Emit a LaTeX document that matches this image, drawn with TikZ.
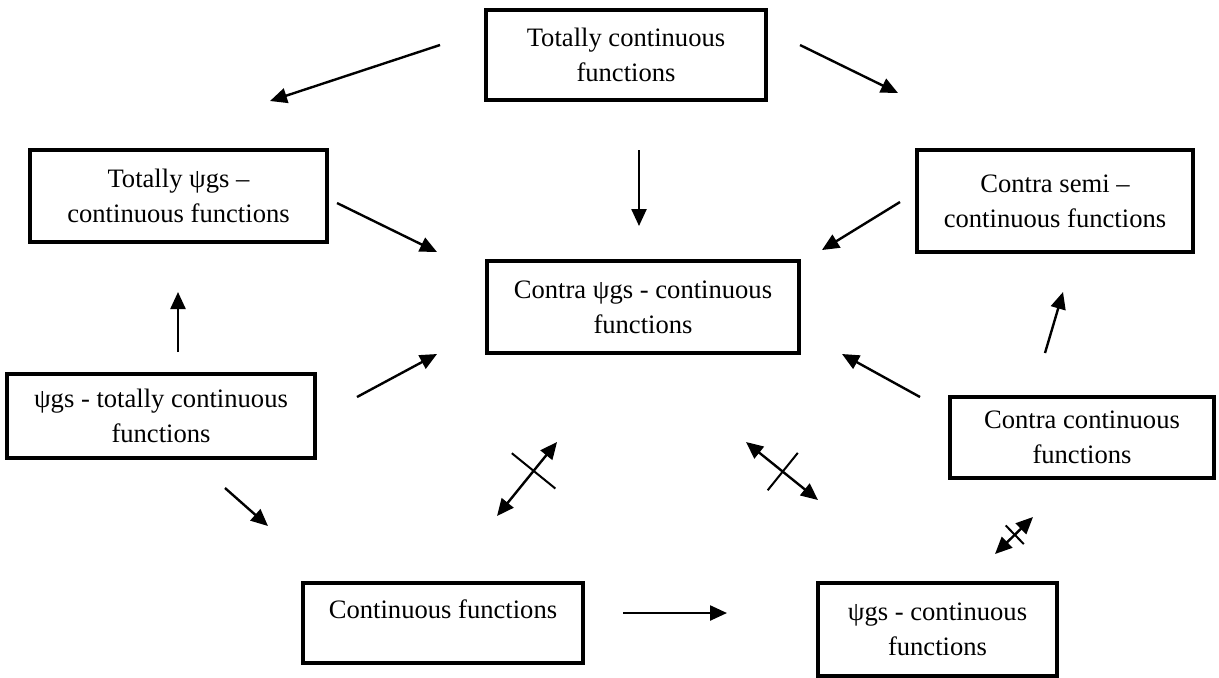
\documentclass[tikz,border=0pt]{standalone}
\usepackage{fontspec}
\setmainfont{Liberation Serif}
\usepackage{tikz}
\usetikzlibrary{arrows.meta,decorations.markings}

\begin{document}
\begin{tikzpicture}[
  x=0.5pt, y=-0.5pt,
  font=\fontsize{13.3}{17.5}\selectfont,
  bx/.style={draw, line width=2pt, align=center, inner sep=3pt},
  ar/.style={-{Triangle[length=8.5pt,width=7.5pt]}, line width=1.2pt},
  dar/.style={{Triangle[length=8.5pt,width=7.5pt]}-{Triangle[length=8.5pt,width=7.5pt]}, line width=1.2pt},
  nott/.style n args={2}{postaction={decorate}, decoration={markings,
      mark=at position #1 with {\draw[-, line width=1pt] (0,-#2) -- (0,#2);}}}
]
\useasboundingbox (0,0) rectangle (1219,677);
% boxes, top row
\node[bx, minimum width=140pt, minimum height=45pt] (tc) at (626,55)
  {Totally continuous\\functions};
\node[bx, minimum width=148.5pt, minimum height=46pt] (tpsi) at (178.5,196)
  {Totally ψgs --\\continuous functions};
\node[bx, minimum width=138pt, minimum height=51pt] (csemi) at (1055,201)
  {Contra semi --\\continuous functions};
% middle
\node[bx, minimum width=156pt, minimum height=46pt] (cpsi) at (643,307)
  {Contra ψgs - continuous\\functions};
\node[bx, minimum width=154pt, minimum height=42pt] (psit) at (161,416)
  {ψgs - totally continuous\\functions};
\node[bx, minimum width=132pt, minimum height=40.5pt] (ccont) at (1082,437.5)
  {Contra continuous\\functions};
% bottom row
\node[bx, minimum width=140pt, minimum height=40pt, text depth=14pt] (cont) at (443,623)
  {Continuous functions};
\node[bx, minimum width=119.5pt, minimum height=46.5pt] (psic) at (937.5,629.5)
  {ψgs - continuous\\functions};
% free arrow ends
\path (440,45) coordinate (a1) (270,101) coordinate (b1)
      (800,45) coordinate (a2) (898,93) coordinate (b2)
      (639,150) coordinate (a3) (639,226) coordinate (b3)
      (337,203) coordinate (a4) (437,252) coordinate (b4)
      (900,202) coordinate (a5) (822,250) coordinate (b5)
      (178,352) coordinate (a6) (178,292) coordinate (b6)
      (357,397) coordinate (a7) (437,354) coordinate (b7)
      (920,397) coordinate (a8) (842,354) coordinate (b8)
      (1045,353) coordinate (a9) (1063,292) coordinate (b9)
      (225,488) coordinate (a10) (268,526) coordinate (b10)
      (623,613) coordinate (a11) (727,613) coordinate (b11)
      (497,516) coordinate (a12) (557,442) coordinate (b12)
      (746,442) coordinate (a13) (818,500) coordinate (b13)
      (995,554) coordinate (a14) (1033,517) coordinate (b14);
% arrows
\draw[ar] (a1) -- (b1);
\draw[ar] (a2) -- (b2);
\draw[ar] (a3) -- (b3);
\draw[ar] (a4) -- (b4);
\draw[ar] (a5) -- (b5);
\draw[ar] (a6) -- (b6);
\draw[ar] (a7) -- (b7);
\draw[ar] (a8) -- (b8);
\draw[ar] (a9) -- (b9);
\draw[ar] (a10) -- (b10);
\draw[ar] (a11) -- (b11);
% crossed double arrows
\draw[dar, nott={0.61}{14pt}] (a12) -- (b12);
\draw[dar, nott={0.51}{12pt}] (a13) -- (b13);
\draw[dar, nott={0.52}{6.5pt}] (a14) -- (b14);
\end{tikzpicture}
\end{document}
